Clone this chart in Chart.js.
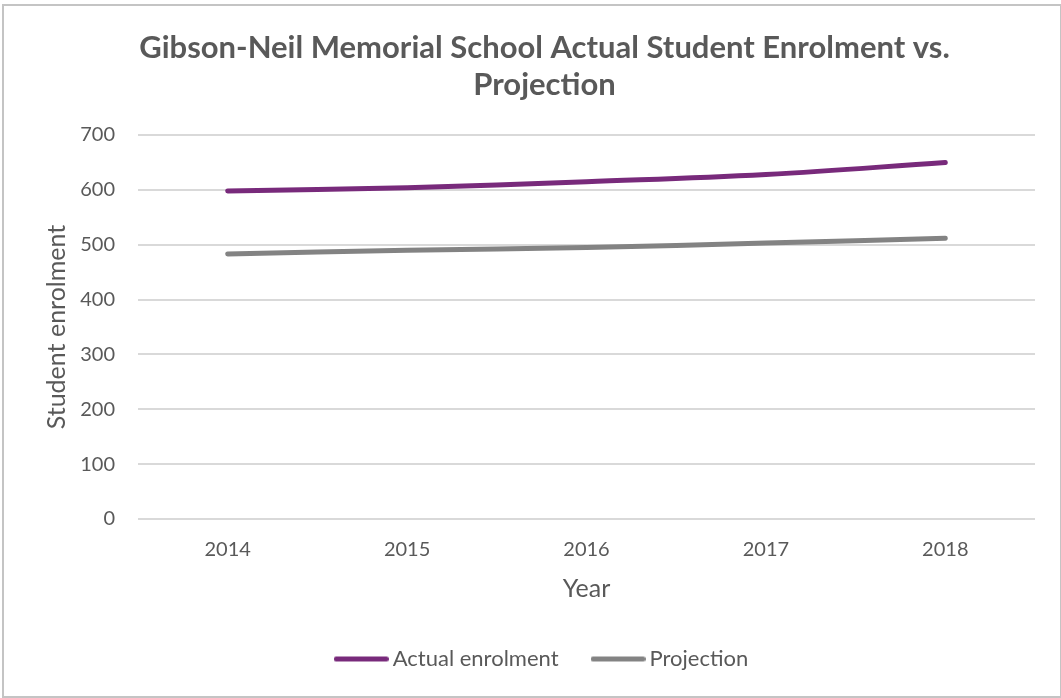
<!DOCTYPE html>
<html>
<head>
<meta charset="utf-8">
<title>Gibson-Neil Memorial School Enrolment</title>
<script src="https://cdn.jsdelivr.net/npm/chart.js@4"></script>
<style>
  html, body { margin: 0; padding: 0; background: #fff; }
  #box {
    position: absolute; left: 2px; top: 4px;
    width: 1056px; height: 690px;
    border: 2px solid #c4c4c4;
  }
  #box canvas { display: block; }
</style>
</head>
<body>
<div id="box"><canvas id="grafico" width="1056" height="690"></canvas></div>
<script>
var anos = ['2014', '2015', '2016', '2017', '2018'];
var matriculas = [598, 604, 615, 628, 650];
var projecao = [483, 490, 495, 503, 512];
var marcasY = [0, 100, 200, 300, 400, 500, 600, 700];

var fonte = 'Lato, "Open Sans", sans-serif';
var cinzaTexto = '#595959';
var roxo = '#782a7b';
var cinza = '#838383';

// traço da legenda, um pouco mais largo que a caixa para ficar colado ao texto
function amostra(cor) {
  var c = document.createElement('canvas');
  c.width = 55;
  c.height = 7;
  var g = c.getContext('2d');
  g.strokeStyle = cor;
  g.lineWidth = 5;
  g.lineCap = 'round';
  g.beginPath();
  g.moveTo(2.5, 3.5);
  g.lineTo(52.5, 3.5);
  g.stroke();
  return c;
}

const ctx = document.getElementById('grafico').getContext('2d');
const grafico = new Chart(ctx, {
  type: 'line',
  data: {
    labels: anos,
    datasets: [{
      label: 'Actual enrolment',
      data: matriculas,
      borderColor: roxo,
      backgroundColor: roxo,
      borderWidth: 5,
      borderCapStyle: 'round',
      pointRadius: 0,
      pointStyle: amostra(roxo),
      tension: 0.4,
      fill: false
    }, {
      label: 'Projection',
      data: projecao,
      borderColor: cinza,
      backgroundColor: cinza,
      borderWidth: 5,
      borderCapStyle: 'round',
      pointRadius: 0,
      pointStyle: amostra(cinza),
      tension: 0.4,
      fill: false
    }]
  },
  options: {
    responsive: false,
    animation: false,
    layout: { padding: { left: 50, right: 25, top: 0, bottom: 16 } },
    plugins: {
      title: {
        display: true,
        text: ['Gibson-Neil Memorial School Actual Student Enrolment vs.', 'Projection'],
        color: cinzaTexto,
        font: { family: fonte, size: 31, weight: 'bold', lineHeight: 1.21 },
        padding: { top: 23, bottom: 31 }
      },
      legend: {
        position: 'bottom',
        labels: {
          color: cinzaTexto,
          font: { family: fonte, size: 22 },
          usePointStyle: true,
          pointStyleWidth: 41,
          boxWidth: 41,
          padding: 39
        }
      },
      tooltip: { enabled: false }
    },
    scales: {
      x: {
        offset: true,
        // altura fixa do eixo x, deixa a área do gráfico terminar no zero certo
        afterFit: function (escala) { escala.height = 90; },
        grid: { display: false, drawTicks: false },
        border: { display: false },
        ticks: { color: cinzaTexto, font: { family: fonte, size: 20 }, padding: 19 },
        title: {
          display: true, text: 'Year', color: cinzaTexto,
          font: { family: fonte, size: 25 }, padding: { top: 12, bottom: 5 }
        }
      },
      y: {
        min: 0,
        max: 700,
        afterBuildTicks: function (escala) {
          escala.ticks = marcasY.map(function (v) { return { value: v }; });
        },
        // largura fixa para a área do gráfico começar no mesmo ponto
        afterFit: function (escala) { escala.width = 84; },
        grid: { color: '#d9d9d9', lineWidth: 2, drawTicks: false },
        border: { display: false },
        ticks: { color: cinzaTexto, font: { family: fonte, size: 20 }, padding: 23 },
        title: {
          display: true, text: 'Student enrolment', color: cinzaTexto,
          font: { family: fonte, size: 25 }, padding: { top: -12, bottom: 0 }
        }
      }
    }
  }
});
</script>
</body>
</html>
